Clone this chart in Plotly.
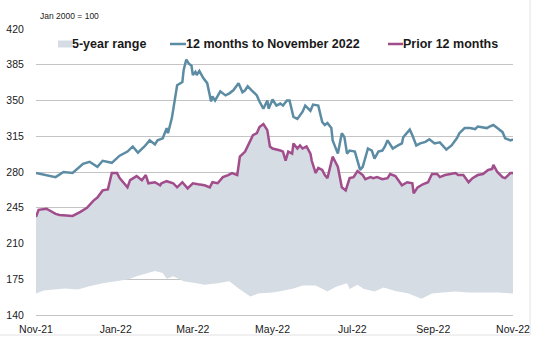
import plotly.graph_objects as go

# ---------------- data ----------------
recent_dates = [
    "2021-11-01", "2021-11-16", "2021-11-22", "2021-11-29", "2021-12-07", "2021-12-12", "2021-12-18",
    "2021-12-22", "2021-12-29", "2022-01-04", "2022-01-10", "2022-01-14", "2022-01-18", "2022-01-23",
    "2022-01-27", "2022-01-31", "2022-02-02", "2022-02-06", "2022-02-09", "2022-02-10", "2022-02-13",
    "2022-02-15", "2022-02-17", "2022-02-21", "2022-02-22", "2022-02-24", "2022-02-26", "2022-02-28",
    "2022-03-01", "2022-03-03", "2022-03-04", "2022-03-06", "2022-03-09", "2022-03-12", "2022-03-13",
    "2022-03-15", "2022-03-16", "2022-03-18", "2022-03-22", "2022-03-26", "2022-03-29", "2022-04-01",
    "2022-04-05", "2022-04-08", "2022-04-10", "2022-04-12", "2022-04-15", "2022-04-19", "2022-04-21",
    "2022-04-24", "2022-04-27", "2022-04-28", "2022-05-01", "2022-05-04", "2022-05-07", "2022-05-09",
    "2022-05-12", "2022-05-14", "2022-05-17", "2022-05-20", "2022-05-24", "2022-05-26", "2022-05-30",
    "2022-06-01", "2022-06-05", "2022-06-08", "2022-06-10", "2022-06-12", "2022-06-15", "2022-06-16",
    "2022-06-20", "2022-06-23", "2022-06-25", "2022-06-27", "2022-06-29", "2022-07-03", "2022-07-07",
    "2022-07-09", "2022-07-13", "2022-07-16", "2022-07-18", "2022-07-21", "2022-07-24", "2022-07-26",
    "2022-07-28", "2022-08-01", "2022-08-05", "2022-08-08", "2022-08-09", "2022-08-12", "2022-08-14",
    "2022-08-16", "2022-08-19", "2022-08-22", "2022-08-26", "2022-08-29", "2022-09-02", "2022-09-06",
    "2022-09-08", "2022-09-11", "2022-09-15", "2022-09-19", "2022-09-21", "2022-09-25", "2022-09-29",
    "2022-10-03", "2022-10-05", "2022-10-09", "2022-10-12", "2022-10-14", "2022-10-17", "2022-10-20",
    "2022-10-24", "2022-10-26", "2022-10-30", "2022-11-01",
]
recent_values = [
    279, 275, 280, 279, 288, 290, 285,
    291, 289, 296, 300, 305, 299, 305,
    311, 307, 311, 313, 323, 318, 333,
    350, 365, 368, 380, 390, 386, 384,
    375, 378, 375, 379, 372, 367, 360,
    349, 354, 350, 359, 355, 357, 360,
    367, 358, 360, 364, 360, 355, 349,
    342, 350, 342, 351, 345, 347, 345,
    350, 350, 334, 332, 339, 345, 340,
    346, 345, 329, 326, 328, 323, 311,
    298, 318, 314, 298, 301, 300, 282,
    285, 303, 301, 293, 300, 301, 305,
    311, 303, 306, 308, 314, 318, 321.5,
    316, 306, 308, 309.5, 312, 308, 309,
    306, 302, 306, 313, 318, 323, 323,
    322, 324.5, 324, 323, 324.5, 326, 323,
    319, 313, 311, 312,
]

prior_dates = [
    "2021-11-01", "2021-11-03", "2021-11-09", "2021-11-16", "2021-11-19", "2021-11-29", "2021-12-05",
    "2021-12-10", "2021-12-15", "2021-12-18", "2021-12-22", "2021-12-26", "2021-12-29", "2022-01-02",
    "2022-01-04", "2022-01-10", "2022-01-12", "2022-01-17", "2022-01-21", "2022-01-24", "2022-01-26",
    "2022-01-31", "2022-02-04", "2022-02-05", "2022-02-09", "2022-02-14", "2022-02-17", "2022-02-21",
    "2022-02-25", "2022-03-01", "2022-03-05", "2022-03-10", "2022-03-14", "2022-03-16", "2022-03-20",
    "2022-03-24", "2022-03-28", "2022-03-31", "2022-04-04", "2022-04-06", "2022-04-10", "2022-04-12",
    "2022-04-16", "2022-04-19", "2022-04-21", "2022-04-24", "2022-04-27", "2022-04-29", "2022-05-01",
    "2022-05-07", "2022-05-09", "2022-05-11", "2022-05-13", "2022-05-16", "2022-05-17", "2022-05-20",
    "2022-05-22", "2022-05-24", "2022-05-27", "2022-05-30", "2022-05-31", "2022-06-03", "2022-06-05",
    "2022-06-08", "2022-06-10", "2022-06-12", "2022-06-16", "2022-06-18", "2022-06-20", "2022-06-23",
    "2022-06-26", "2022-06-29", "2022-07-02", "2022-07-05", "2022-07-09", "2022-07-11", "2022-07-15",
    "2022-07-17", "2022-07-20", "2022-07-24", "2022-07-28", "2022-07-30", "2022-08-03", "2022-08-08",
    "2022-08-12", "2022-08-16", "2022-08-17", "2022-08-20", "2022-08-24", "2022-08-28", "2022-08-31",
    "2022-09-04", "2022-09-06", "2022-09-10", "2022-09-14", "2022-09-18", "2022-09-20", "2022-09-24",
    "2022-09-28", "2022-10-01", "2022-10-05", "2022-10-09", "2022-10-13", "2022-10-16", "2022-10-17",
    "2022-10-20", "2022-10-24", "2022-10-26", "2022-10-30", "2022-11-01",
]
prior_values = [
    236, 243, 244, 239, 238, 237, 241,
    245, 252, 255, 262, 263, 279, 279,
    274, 265, 272, 276, 272, 277, 269,
    270, 267, 269, 271, 269, 265, 270,
    264, 269, 268, 267, 265, 270, 269,
    275, 277, 279, 277, 295, 300, 305,
    316, 318, 324, 327, 321, 305, 303,
    301, 300, 291, 300, 298, 308, 303,
    306, 303, 305, 298, 291, 279, 284,
    282, 277, 274, 295, 290, 285, 265,
    262, 274, 275, 281, 277, 273, 275,
    274, 275, 273, 274, 278, 276, 267,
    270, 269, 259, 265, 268, 270, 278,
    278, 275, 277, 278, 279, 277, 277,
    270, 274, 277, 278, 282, 283, 287,
    280, 275, 274, 279, 279,
]

# 5-year range: lower bound; upper bound coincides with the prior-12-months line
range_low_dates = [
    "2021-11-01", "2021-11-07", "2021-11-15", "2021-11-23", "2021-12-03", "2021-12-11", "2021-12-22",
    "2022-01-01", "2022-01-11", "2022-01-17", "2022-01-22", "2022-01-31", "2022-02-06", "2022-02-09",
    "2022-02-14", "2022-02-22", "2022-03-04", "2022-03-10", "2022-03-20", "2022-03-29", "2022-04-05",
    "2022-04-14", "2022-04-20", "2022-05-01", "2022-05-08", "2022-05-17", "2022-05-24", "2022-06-03",
    "2022-06-12", "2022-06-19", "2022-06-27", "2022-06-29", "2022-07-05", "2022-07-10", "2022-07-18",
    "2022-07-25", "2022-08-03", "2022-08-13", "2022-08-23", "2022-08-31", "2022-09-08", "2022-09-18",
    "2022-09-28", "2022-10-09", "2022-10-20", "2022-11-01",
]
range_low_values = [
    161, 164, 165, 166, 165, 168, 171,
    173, 175, 178, 180, 183, 181, 175.5,
    178, 173, 171, 169.5, 171, 173, 166,
    158, 161, 162, 163.5, 166, 169, 169,
    163, 168, 171, 165.5, 169.5, 165.5, 163,
    167, 163.5, 161, 156, 161, 162, 163,
    162, 162, 162, 161,
]
range_high_dates = prior_dates
range_high_values = prior_values

x_tick_dates = ["2021-11-01", "2022-01-01", "2022-03-01", "2022-05-01", "2022-07-01", "2022-09-01", "2022-11-01"]
x_tick_labels = ["Nov-21", "Jan-22", "Mar-22", "May-22", "Jul-22", "Sep-22", "Nov-22"]
y_ticks = [140, 175, 210, 245, 280, 315, 350, 385, 420]

series_names = ["5-year range", "12 months to November 2022", "Prior 12 months"]

# ---------------- styling ----------------
FILL = "#D6DCE4"
BLUE = "#5B8CA4"
PURPLE = "#A14D8C"
GRID = "#C4C4C4"
FONT = "Liberation Sans, Arial, sans-serif"

W, H = 533, 337
ML, MR, MT, MB = 36, 20, 29, 22
PW, PH = W - ML - MR, H - MT - MB


def px_x(x):
    return (x - ML) / PW


def px_y(y):
    return (H - MB - y) / PH


fig = go.Figure()

fig.add_trace(go.Scatter(
    x=range_low_dates + range_high_dates[::-1],
    y=range_low_values + range_high_values[::-1],
    fill="toself", fillcolor=FILL, mode="lines",
    line=dict(width=0, color=FILL),
    name=series_names[0], hoverinfo="skip",
))
fig.add_trace(go.Scatter(
    x=recent_dates, y=recent_values, mode="lines",
    line=dict(color=BLUE, width=2.5), name=series_names[1],
))
fig.add_trace(go.Scatter(
    x=prior_dates, y=prior_values, mode="lines",
    line=dict(color=PURPLE, width=2.5), name=series_names[2],
))

# custom legend (swatches + labels) laid out like the original
legend_font = dict(family=FONT, size=12.5, color="#1a1a1a", weight="bold")
leg_y = px_y(44)
shapes = [
    dict(type="rect", xref="paper", yref="paper",
         x0=px_x(58), x1=px_x(72), y0=px_y(47.5), y1=px_y(40.5),
         fillcolor=FILL, line=dict(width=0)),
    dict(type="line", xref="paper", yref="paper",
         x0=px_x(170), x1=px_x(186), y0=leg_y, y1=leg_y,
         line=dict(color=BLUE, width=2.5)),
    dict(type="line", xref="paper", yref="paper",
         x0=px_x(388), x1=px_x(403), y0=leg_y, y1=leg_y,
         line=dict(color=PURPLE, width=2.5)),
    dict(type="rect", xref="paper", yref="paper",
         x0=px_x(-1), y0=px_y(335), x1=px_x(530), y1=px_y(-1),
         line=dict(color="#E2E2E2", width=1), fillcolor="rgba(0,0,0,0)", layer="below"),
]
annotations = [
    dict(text=series_names[0], x=px_x(71), y=leg_y),
    dict(text=series_names[1], x=px_x(185), y=leg_y),
    dict(text=series_names[2], x=px_x(402), y=leg_y),
]
for a in annotations:
    a.update(xref="paper", yref="paper", xanchor="left", yanchor="middle",
             showarrow=False, borderpad=0, font=legend_font)
annotations.append(dict(
    text="Jan 2000 = 100", xref="paper", yref="paper",
    x=px_x(39), y=px_y(16), xanchor="left", yanchor="middle", borderpad=0,
    showarrow=False, font=dict(family=FONT, size=8.5, color="#222"),
))

fig.update_layout(
    width=W, height=H,
    margin=dict(l=ML, r=MR, t=MT, b=MB, autoexpand=False),
    paper_bgcolor="white", plot_bgcolor="white",
    font=dict(family=FONT, size=10.5, color="#1a1a1a"),
    showlegend=False,
    xaxis=dict(
        type="date", range=["2021-11-01", "2022-11-01"],
        tickvals=x_tick_dates, ticktext=x_tick_labels,
        showgrid=False, zeroline=False, automargin=False,
        showline=True, linecolor=GRID, linewidth=1,
        ticks="outside", ticklen=4, tickcolor="rgba(0,0,0,0)",
        tickfont=dict(size=10.5),
    ),
    yaxis=dict(
        range=[140, 420], tickvals=y_ticks, automargin=False,
        showgrid=True, gridcolor=GRID, gridwidth=1,
        zeroline=False, showline=False,
        ticks="outside", ticklen=9, tickcolor="rgba(0,0,0,0)",
        tickfont=dict(size=10.5),
    ),
    annotations=annotations,
    shapes=shapes,
)

fig.write_html("out.html")
